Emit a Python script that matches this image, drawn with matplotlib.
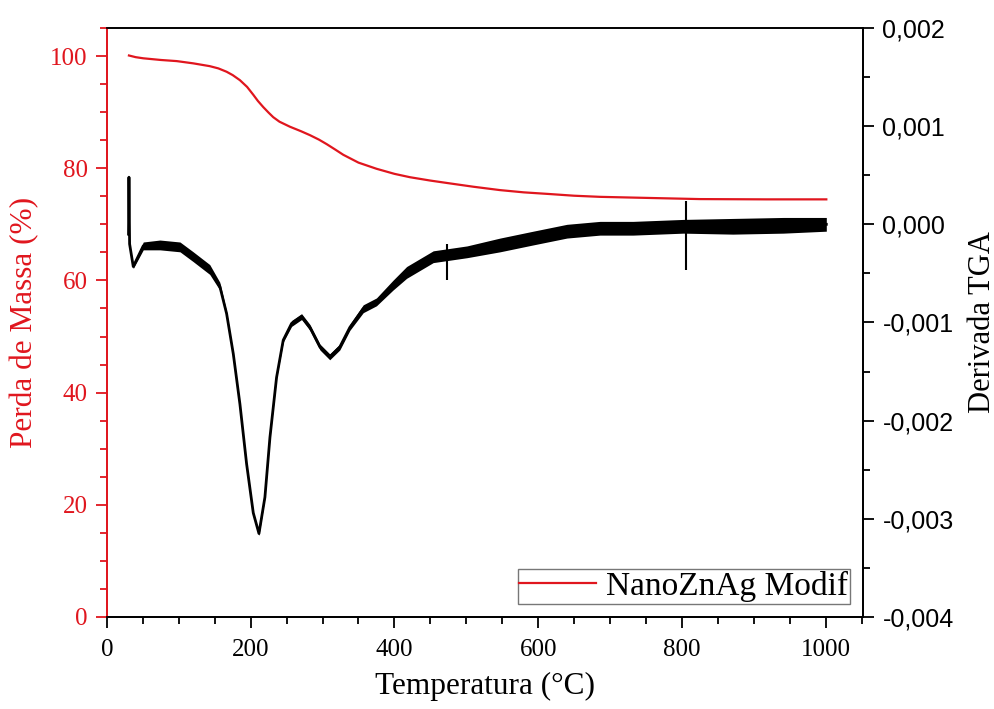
import matplotlib
matplotlib.use("Agg")
import matplotlib.pyplot as plt
from matplotlib.ticker import MultipleLocator, FuncFormatter

# --- data ---
tga_temp = [30.6, 40, 50.5, 75, 97, 120, 143, 155, 166.5, 175, 185, 195, 203.6, 210,
            217.5, 225, 231.4, 240, 254.6, 270, 282.4, 295, 305.7, 318, 328.8, 350,
            375.2, 400, 421.6, 450, 477, 510, 547, 580, 616, 650, 686, 755, 825, 918, 1001]
tga_mass = [100.1, 99.8, 99.6, 99.3, 99.1, 98.7, 98.2, 97.8, 97.2, 96.6, 95.7, 94.5,
            93.1, 92.0, 90.9, 89.9, 89.1, 88.3, 87.4, 86.6, 85.9, 85.1, 84.3, 83.3,
            82.4, 81.0, 79.9, 79.0, 78.4, 77.8, 77.3, 76.7, 76.1, 75.7, 75.4, 75.1,
            74.9, 74.7, 74.5, 74.45, 74.45]

# derivative: centre of the noisy trace and half-thickness of its noise band
dtg_temp = [30.0, 30.6, 31.5, 36.6, 50.5, 73.7, 101.6, 120, 143, 157, 166.5, 175.8, 185,
            194.3, 203.6, 211.5, 219.8, 226.8, 236, 245.3, 256.9, 270.8, 282.4, 296.4,
            310, 324, 338, 356.6, 375, 398, 417, 454, 501, 547, 593, 640, 686, 732, 802,
            871, 941, 1001]
dtg_value = [-0.00010, 0.00048, -0.00020, -0.00043, -0.00022, -0.00021, -0.00023, -0.00033,
             -0.00046, -0.00063, -0.00091, -0.00132, -0.00183, -0.00244, -0.00294, -0.00315,
             -0.00278, -0.00217, -0.00156, -0.00118, -0.00101, -0.00094, -0.00105, -0.00125,
             -0.00135, -0.00125, -0.00105, -0.00086, -0.00079, -0.00062, -0.00049, -0.00033,
             -0.00028, -0.00021, -0.00014, -0.00007, -0.00004, -0.00004, -0.00002, -0.00002,
             -0.00001, 0.00000]
dtg_spread = [0.0, 0.0, 0.0, 0.00002, 0.00004, 0.00005, 0.00005, 0.00005, 0.00005, 0.00004,
              0.00002, 0.00001, 0.00001, 0.00001, 0.00001, 0.00002, 0.00001, 0.00001,
              0.00001, 0.00002, 0.00003, 0.00003, 0.00003, 0.00003, 0.00003, 0.00003,
              0.00003, 0.00004, 0.00004, 0.00005, 0.00006, 0.00006, 0.00006, 0.00007,
              0.00007, 0.00007, 0.00007, 0.00007, 0.00007, 0.00008, 0.00008, 0.00007]
# isolated spikes in the derivative trace
spike_temp = [473, 805.5]
spike_top = [-0.00020, 0.00024]
spike_bottom = [-0.00057, -0.00047]

legend_label = "NanoZnAg Modif"
x_label = "Temperatura (°C)"
y_left_label = "Perda de Massa (%)"
y_right_label = "Derivada TGA"

RED = "#e0161e"
SERIF = "Liberation Serif"
SANS = "Liberation Sans"

fig = plt.figure(figsize=(9.95, 7.09), dpi=100)
ax = fig.add_axes([0.1075, 0.1298, 0.7598, 0.8307])
ax2 = ax.twinx()

line_tga, = ax.plot(tga_temp, tga_mass, color=RED, lw=1.6, label=legend_label)

lower = [c - s for c, s in zip(dtg_value, dtg_spread)]
upper = [c + s for c, s in zip(dtg_value, dtg_spread)]
ax2.fill_between(dtg_temp, lower, upper, color="black", lw=0)
ax2.plot(dtg_temp, dtg_value, color="black", lw=2.0)
ax2.vlines(spike_temp, spike_bottom, spike_top, color="black", lw=1.5)

ax.set_xlim(0, 1052)
ax.set_ylim(0, 105)
ax2.set_ylim(-0.004, 0.002)

ax.xaxis.set_major_locator(MultipleLocator(200))
ax.xaxis.set_minor_locator(MultipleLocator(50))
ax.yaxis.set_major_locator(MultipleLocator(20))
ax.yaxis.set_minor_locator(MultipleLocator(5))
ax2.yaxis.set_major_locator(MultipleLocator(0.001))
ax2.yaxis.set_minor_locator(MultipleLocator(0.0005))
ax2.yaxis.set_major_formatter(FuncFormatter(lambda v, p: f"{v:.3f}".replace(".", ",").replace("-0,000", "0,000")))

for a in (ax, ax2):
    for s in a.spines.values():
        s.set_linewidth(1.3)
ax.spines["left"].set_color(RED)
ax2.spines["left"].set_color(RED)
ax.spines["top"].set_color("#333333")

ax.tick_params(axis="x", which="major", direction="out", length=8, width=1.3, pad=8)
ax.tick_params(axis="x", which="minor", direction="out", length=5, width=1.3)
ax.tick_params(axis="y", which="major", direction="out", length=8, width=1.3, colors=RED, pad=6)
ax.tick_params(axis="y", which="minor", direction="out", length=5, width=1.3, colors=RED)
ax2.tick_params(axis="y", which="major", direction="out", length=8, width=1.3, pad=6)
ax2.tick_params(axis="y", which="minor", direction="out", length=5, width=1.3)

for lab in ax.get_xticklabels() + ax.get_yticklabels():
    lab.set_fontfamily(SERIF)
    lab.set_fontsize(18)
for lab in ax.get_yticklabels():
    lab.set_color(RED)
for lab in ax2.get_yticklabels():
    lab.set_fontfamily(SANS)
    lab.set_fontsize(18)

ax.set_xlabel(x_label, fontfamily=SERIF, fontsize=22.5, labelpad=8)
ax.set_ylabel(y_left_label, fontfamily=SERIF, fontsize=22.5, color=RED, labelpad=8)
ax2.set_ylabel(y_right_label, fontfamily=SERIF, fontsize=22, labelpad=10)

leg = ax2.legend(handles=[line_tga], loc="lower right", frameon=True, fancybox=False,
                 edgecolor="#555555", prop={"family": SERIF, "size": 24},
                 handlelength=2.3, borderpad=0.05, borderaxespad=0.4, handletextpad=0.3)
leg.get_frame().set_linewidth(1.0)

fig.savefig("out.png", dpi=100)
